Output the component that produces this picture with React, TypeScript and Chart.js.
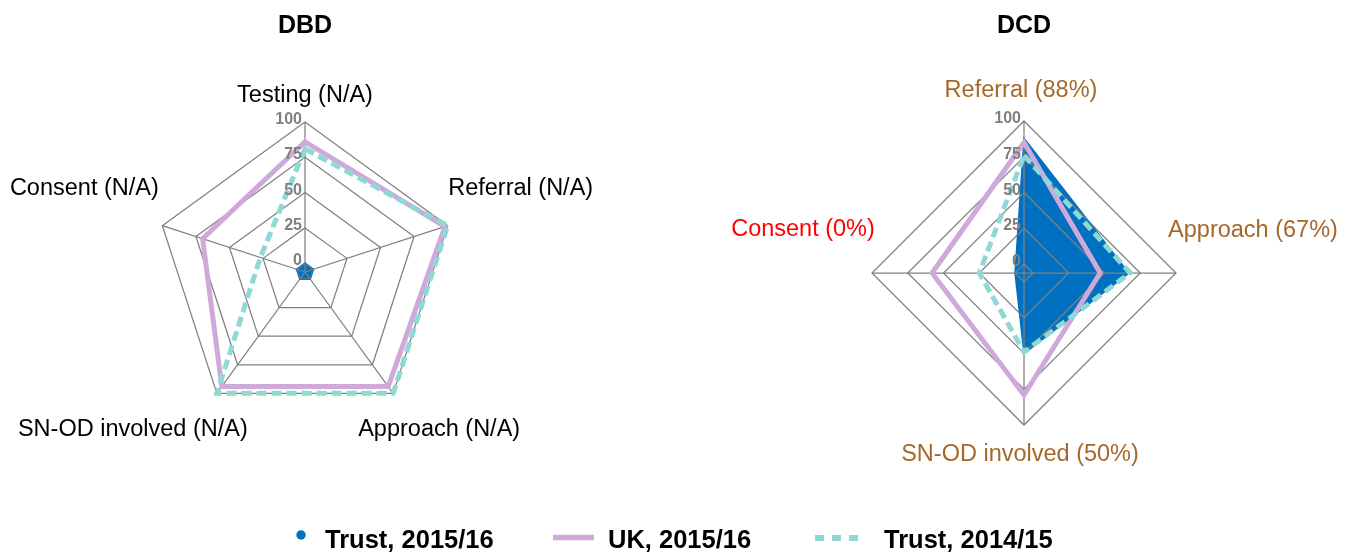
import React, { useEffect, useRef } from 'react';
import { Chart, registerables } from 'chart.js';

Chart.register(...registerables);

// ---------- data ----------
const seriesNames = ['Trust, 2015/16', 'UK, 2015/16', 'Trust, 2014/15'];
const tickValues = [0, 25, 50, 75, 100];

const dbdTitle = 'DBD';
const dbdCategories = ['Testing (N/A)', 'Referral (N/A)', 'Approach (N/A)', 'SN-OD involved (N/A)', 'Consent (N/A)'];
const dbdTrust1516 = [0, 0, 0, 0, 0];
const dbdUK1516 = [86, 98, 94, 94, 70];
const dbdTrust1415 = [81, 100, 100, 100, 27];

const dcdTitle = 'DCD';
const dcdCategories = ['Referral (88%)', 'Approach (67%)', 'SN-OD involved (50%)', 'Consent (0%)'];
const dcdTrust1516 = [88, 67, 50, 0];
const dcdUK1516 = [85, 47, 79, 58];
const dcdTrust1415 = [76, 68, 49, 25];

// ---------- style ----------
const W = 1351;
const H = 552;
const FONT = '"Liberation Sans", Arial, Helvetica, sans-serif';
const BLUE = '#0070C0';
const PURPLE = '#CFA9DA';
const TEAL = '#8ED9D4';
const GRID = '#808080';
const TICK = '#7F7F7F';
const BROWN = '#A5682A';
const RED = '#FF0000';

const dbdLabelColors = ['#000', '#000', '#000', '#000', '#000'];
const dcdLabelColors = [BROWN, BROWN, BROWN, RED];
const dbdLabelOffsets = [[0, -20], [73, -31], [46, 43], [-84, 43], [-78, -31]];
const dcdLabelOffsets = [[-3, -24], [77, -36], [-4, 36], [-69, -37]];

function drawLegend(ctx: CanvasRenderingContext2D) {
  ctx.save();
  ctx.font = `bold 25.5px ${FONT}`;
  ctx.textAlign = 'left';
  ctx.textBaseline = 'alphabetic';
  // item 1
  ctx.fillStyle = BLUE;
  ctx.beginPath();
  ctx.arc(301, 535, 4.7, 0, Math.PI * 2);
  ctx.fill();
  ctx.fillStyle = '#000';
  ctx.fillText(seriesNames[0], 325, 548);
  // item 2
  ctx.strokeStyle = PURPLE;
  ctx.lineWidth = 5.5;
  ctx.beginPath();
  ctx.moveTo(553, 537.5);
  ctx.lineTo(594, 537.5);
  ctx.stroke();
  ctx.fillText(seriesNames[1], 608, 548);
  // item 3
  ctx.strokeStyle = TEAL;
  ctx.lineWidth = 6;
  ctx.setLineDash([9, 8]);
  ctx.beginPath();
  ctx.moveTo(815, 538);
  ctx.lineTo(858, 538);
  ctx.stroke();
  ctx.setLineDash([]);
  ctx.fillText(seriesNames[2], 884, 548);
  ctx.restore();
}

const radarDecor = {
  id: 'radarDecor',
  afterDatasetDraw(chart: any, args: any) {
    if (args.index !== 0) return;
    const meta = chart.getDatasetMeta(0);
    const scale = chart.scales.r;
    const ctx = chart.ctx as CanvasRenderingContext2D;
    ctx.save();
    ctx.beginPath();
    meta.data.forEach((pt: any, i: number) => {
      if (i === 0) ctx.moveTo(pt.x, pt.y);
      else ctx.lineTo(pt.x, pt.y);
    });
    ctx.closePath();
    ctx.clip();
    scale.drawGrid();
    ctx.restore();
  },
  afterDraw(chart: any, _args: any, opts: any) {
    const scale = chart.scales.r;
    const ctx = chart.ctx as CanvasRenderingContext2D;
    ctx.save();
    // tick labels
    ctx.font = `bold 16px ${FONT}`;
    ctx.fillStyle = TICK;
    ctx.textAlign = 'right';
    ctx.textBaseline = 'alphabetic';
    scale.ticks.forEach((t: any) => {
      const d = scale.getDistanceFromCenterForValue(t.value);
      ctx.fillText(String(t.value), scale.xCenter - 3, scale.yCenter - d + 2);
    });
    // point labels
    ctx.font = `23.5px ${FONT}`;
    ctx.textAlign = 'center';
    const labels: string[] = chart.data.labels;
    labels.forEach((lab, i) => {
      const p = scale.getPointPosition(i, scale.drawingArea);
      const off = opts.offsets[i];
      ctx.fillStyle = opts.colors[i];
      ctx.fillText(lab, p.x + off[0], p.y + off[1]);
    });
    // title
    ctx.font = `bold 25px ${FONT}`;
    ctx.fillStyle = '#000';
    ctx.fillText(opts.title, scale.xCenter, 33);
    ctx.restore();
    if (opts.legend) drawLegend(ctx);
  },
};

function makeConfig(
  labels: string[],
  trust1516: number[],
  uk1516: number[],
  trust1415: number[],
  padding: any,
  decor: any
): any {
  return {
    type: 'radar',
    data: {
      labels,
      datasets: [
        {
          label: seriesNames[0],
          data: trust1516,
          backgroundColor: BLUE,
          borderColor: BLUE,
          borderWidth: 1.5,
          fill: 'start',
          order: 3,
          pointRadius: 0,
          clip: false,
        },
        {
          label: seriesNames[1],
          data: uk1516,
          borderColor: PURPLE,
          borderWidth: 5,
          borderJoinStyle: 'miter',
          fill: false,
          order: 2,
          pointRadius: 0,
          clip: false,
        },
        {
          label: seriesNames[2],
          data: trust1415,
          borderColor: TEAL,
          borderWidth: 5,
          borderDash: [10, 5],
          borderJoinStyle: 'miter',
          fill: false,
          order: 1,
          pointRadius: 0,
          clip: false,
        },
      ],
    },
    options: {
      responsive: false,
      animation: false,
      events: [],
      layout: { padding },
      elements: { line: { tension: 0 } },
      plugins: {
        legend: { display: false },
        tooltip: { enabled: false },
        radarDecor: decor,
      },
      scales: {
        r: {
          min: -6.25,
          max: 100,
          ticks: { display: false },
          afterBuildTicks: (s: any) => {
            s.ticks = tickValues.map((v) => ({ value: v }));
          },
          pointLabels: { display: false },
          grid: { color: GRID, lineWidth: 1.25 },
          angleLines: { color: GRID, lineWidth: 1.25 },
        },
      },
    },
    plugins: [radarDecor],
  };
}

export default function App() {
  const dbdRef = useRef<HTMLCanvasElement>(null);
  const dcdRef = useRef<HTMLCanvasElement>(null);

  useEffect(() => {
    const c1 = new Chart(
      dbdRef.current!,
      makeConfig(
        dbdCategories,
        dbdTrust1516,
        dbdUK1516,
        dbdTrust1415,
        { left: 155, right: W - 455, top: 122, bottom: H - 422 },
        { offsets: dbdLabelOffsets, colors: dbdLabelColors, title: dbdTitle, legend: false }
      )
    );
    const c2 = new Chart(
      dcdRef.current!,
      makeConfig(
        dcdCategories,
        dcdTrust1516,
        dcdUK1516,
        dcdTrust1415,
        { left: 872, right: W - 1176, top: 121, bottom: H - 425 },
        { offsets: dcdLabelOffsets, colors: dcdLabelColors, title: dcdTitle, legend: true }
      )
    );
    return () => {
      c1.destroy();
      c2.destroy();
    };
  }, []);

  const canvasStyle: React.CSSProperties = {
    position: 'absolute',
    left: 0,
    top: 0,
    width: W,
    height: H,
    display: 'block',
  };

  return (
    <div style={{ position: 'absolute', left: 0, top: 0, width: W, height: H, background: '#fff', overflow: 'hidden' }}>
      <canvas ref={dcdRef} width={W} height={H} style={canvasStyle} />
      <canvas ref={dbdRef} width={W} height={H} style={canvasStyle} />
    </div>
  );
}
